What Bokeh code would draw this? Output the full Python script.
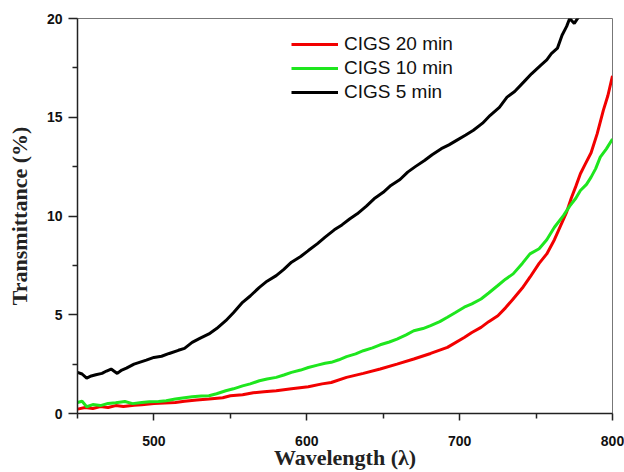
from bokeh.plotting import figure
from bokeh.models import FixedTicker, Legend, LegendItem, Range1d
from bokeh.embed import file_html
from bokeh.resources import INLINE

# ---- data ----
w_20 = [450,455,460,465,470,475,480,487,492,500,507,514,520,528,536,545,550,558,565,572,580,590,601,610,616,626,637,648,659,670,681,692,703,708,714,719,725,730,735,741,746,752,757,762,766,770,773,776,779,782,786,790,794,797,800]
t_20 = [0.22,0.3,0.25,0.35,0.3,0.4,0.35,0.42,0.44,0.5,0.53,0.56,0.62,0.68,0.73,0.8,0.9,0.95,1.05,1.1,1.15,1.25,1.35,1.5,1.57,1.83,2.03,2.25,2.5,2.76,3.04,3.35,3.85,4.1,4.36,4.65,4.95,5.35,5.8,6.35,6.9,7.6,8.08,8.8,9.5,10.2,10.9,11.5,12.14,12.6,13.2,14.17,15.35,16.1,17.1]

w_10 = [450,453,456,460,465,470,475,481,486,492,497,503,508,514,520,525,531,536,541,547,552,558,563,569,574,580,585,590,596,601,607,612,616,621,626,632,637,643,648,654,659,665,670,676,681,687,692,697,703,708,714,719,725,730,735,741,746,752,757,762,768,772,776,779,783,786,789,792,796,800]
t_10 = [0.56,0.62,0.34,0.45,0.4,0.51,0.55,0.61,0.5,0.56,0.6,0.61,0.65,0.73,0.8,0.85,0.88,0.9,1.0,1.15,1.25,1.4,1.5,1.66,1.75,1.83,1.95,2.08,2.2,2.33,2.45,2.54,2.59,2.72,2.88,3.02,3.18,3.32,3.48,3.62,3.77,3.98,4.19,4.3,4.45,4.65,4.87,5.1,5.38,5.55,5.8,6.1,6.48,6.8,7.07,7.6,8.08,8.34,8.8,9.43,10.03,10.5,10.9,11.29,11.6,11.97,12.4,12.98,13.4,13.9]

w_5 = [450,453,456,459,462,466,469,472,476,479,482,487,491,495,500,505,510,516,520,525,530,536,541,547,552,558,563,569,574,580,585,590,596,601,607,612,618,623,628,633,639,644,650,655,661,666,671,677,682,688,693,698,704,709,715,720,726,731,736,742,747,753,757,760,764,767,770,772,775,778,782]
t_5 = [2.08,2.0,1.79,1.9,1.96,2.03,2.15,2.25,2.03,2.2,2.3,2.5,2.6,2.7,2.84,2.9,3.04,3.2,3.3,3.6,3.8,4.03,4.3,4.7,5.1,5.63,5.95,6.39,6.7,6.98,7.3,7.66,7.95,8.25,8.6,8.93,9.3,9.55,9.85,10.11,10.5,10.87,11.2,11.55,11.85,12.22,12.5,12.81,13.1,13.41,13.6,13.83,14.1,14.34,14.7,15.1,15.5,16.02,16.3,16.79,17.2,17.63,17.9,18.22,18.5,19.15,19.6,20.0,19.75,20.1,20.6]

series_names = ["CIGS 20 min", "CIGS 10 min", "CIGS 5 min"]
series_colors = ["#f20000", "#1ee61e", "#000000"]

x_major = [500, 600, 700, 800]
x_minor = [450, 550, 650, 750]
y_major = [0, 5, 10, 15, 20]
y_minor = [2.5, 7.5, 12.5, 17.5]

p = figure(width=624, height=472, output_backend="svg", toolbar_location=None,
           x_range=Range1d(450, 800), y_range=Range1d(0, 20),
           min_border_left=77, min_border_right=12, min_border_top=18, min_border_bottom=59)
p.background_fill_color = "white"
p.border_fill_color = "white"
p.grid.visible = False
p.outline_line_color = "#777777"
p.outline_line_width = 1

rs = []
for wx, ty, c in zip([w_20, w_10, w_5], [t_20, t_10, t_5], series_colors):
    rs.append(p.line(wx, ty, line_color=c, line_width=3))

for ax in (p.xaxis[0], p.yaxis[0]):
    ax.axis_line_color = "#222222"
    ax.axis_line_width = 1.5
    ax.major_tick_line_color = "#222222"
    ax.minor_tick_line_color = "#222222"
    ax.major_tick_line_width = 1.5
    ax.minor_tick_line_width = 1.5
    ax.major_tick_in = 0
    ax.minor_tick_in = 0
    ax.major_label_text_font = "Liberation Sans"
    ax.major_label_text_font_style = "bold"
    ax.major_label_text_font_size = "14px"
    ax.major_label_text_color = "#111111"
    ax.axis_label_text_font = "Liberation Serif"
    ax.axis_label_text_font_style = "bold"
    ax.axis_label_text_font_size = "22px"
    ax.axis_label_text_color = "#222222"

p.xaxis.ticker = FixedTicker(ticks=x_major, minor_ticks=x_minor)
p.yaxis.ticker = FixedTicker(ticks=y_major, minor_ticks=y_minor)
p.xaxis.major_tick_out = 7
p.xaxis.minor_tick_out = 5
p.yaxis.major_tick_out = 9
p.yaxis.minor_tick_out = 5
p.xaxis.major_label_standoff = 15
p.yaxis.major_label_standoff = 6
p.xaxis.axis_label = "Wavelength (\u03bb)"
p.yaxis.axis_label = "Transmittance (%)"
p.xaxis.axis_label_standoff = -4
p.yaxis.axis_label_standoff = 12

legend = Legend(items=[LegendItem(label=n, renderers=[r]) for n, r in zip(series_names, rs)],
                location=(214, 309))
legend.border_line_color = None
legend.background_fill_alpha = 0
legend.label_text_font = "Liberation Sans"
legend.label_text_font_size = "19px"
legend.label_text_color = "#111111"
legend.glyph_width = 47
legend.glyph_height = 24
legend.label_height = 24
legend.label_standoff = 6
legend.spacing = 0
legend.padding = 0
legend.margin = 0
p.add_layout(legend, "center")

open("out.html", "w").write(file_html(p, INLINE))
